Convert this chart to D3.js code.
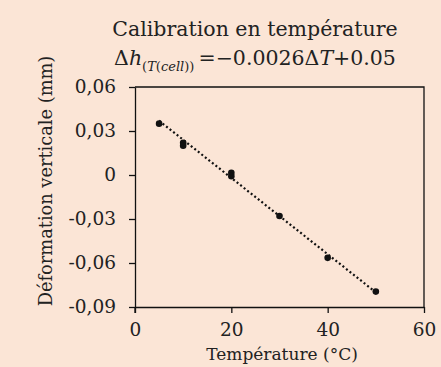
<!DOCTYPE html>
<html>
<head>
<meta charset="utf-8">
<script src="https://cdn.jsdelivr.net/npm/d3@7"></script>
<style>
  html, body { margin: 0; padding: 0; background: #fbe5d6; }
  svg { display: block; }
  text { font-family: "DejaVu Serif", "Liberation Serif", serif; fill: #222; }
</style>
</head>
<body>
<svg id="chart" width="441" height="367"></svg>
<script>
// Measured temperatures (°C) and vertical deformation (mm)
const temperatures = [5, 10, 10, 20, 20, 30, 40, 50];
const deformations = [0.035, 0.022, 0.020, 0.0015, -0.0008, -0.028, -0.0565, -0.0795];

// Linear calibration fit shown in the title
const fitSlope = -0.0026;
const fitIntercept = 0.05;
const fitRange = [5, 50];

// Axis ticks
const xTicks = [0, 20, 40, 60];
const yTicks = [0.06, 0.03, 0, -0.03, -0.06, -0.09];
const yTickLabels = ["0,06", "0,03", "0", "-0,03", "-0,06", "-0,09"];

const titleText = "Calibration en température";
const xLabel = "Température (°C)";
const yLabel = "Déformation verticale (mm)";

const svg = d3.select("#chart");
const W = 441, H = 367;
const plot = { left: 135, right: 424, top: 87, bottom: 307 };

svg.append("rect").attr("width", W).attr("height", H).attr("fill", "#fbe5d6");

const x = d3.scaleLinear().domain([0, 60]).range([plot.left, plot.right]);
const y = d3.scaleLinear().domain([-0.09, 0.06]).range([plot.bottom, plot.top]);

// Frame: top and right edges
svg.append("path")
  .attr("d", `M${plot.left},${plot.top}H${plot.right}V${plot.bottom}`)
  .attr("fill", "none").attr("stroke", "#111").attr("stroke-width", 1.3);

// Y axis
const yAxis = d3.axisLeft(y)
  .tickValues(yTicks)
  .tickFormat((d, i) => yTickLabels[i])
  .tickSize(6).tickSizeOuter(0).tickPadding(13);
const gy = svg.append("g").attr("transform", `translate(${plot.left},0)`).call(yAxis);

// X axis
const xAxis = d3.axisBottom(x)
  .tickValues(xTicks)
  .tickSize(6).tickSizeOuter(0).tickPadding(10);
const gx = svg.append("g").attr("transform", `translate(0,${plot.bottom})`).call(xAxis);

[gx, gy].forEach(g => {
  g.select(".domain").attr("stroke", "#111").attr("stroke-width", 1.3);
  g.selectAll(".tick line").attr("stroke", "#111").attr("stroke-width", 1.3);
  g.selectAll(".tick text")
    .attr("font-family", "DejaVu Serif, serif")
    .attr("font-size", 18.5).attr("fill", "#222");
});
// Extend the y axis line down through the x axis, as a tick at x = 0
gy.append("line").attr("x1", 0).attr("x2", 0)
  .attr("y1", plot.bottom).attr("y2", plot.bottom + 6)
  .attr("stroke", "#111").attr("stroke-width", 1.3);

// Dotted linear trend line
const fitLine = d3.line().x(d => x(d)).y(d => y(fitSlope * d + fitIntercept));
svg.append("path")
  .datum(fitRange)
  .attr("d", fitLine)
  .attr("fill", "none")
  .attr("stroke", "#111")
  .attr("stroke-width", 2.2)
  .attr("stroke-dasharray", "2,2.5");

// Data points
svg.append("g").selectAll("circle")
  .data(temperatures.map((t, i) => [t, deformations[i]]))
  .join("circle")
  .attr("cx", d => x(d[0]))
  .attr("cy", d => y(d[1]))
  .attr("r", 3.3)
  .attr("fill", "#111");

// Title
const cx = 255;
svg.append("text").attr("x", cx).attr("y", 36)
  .attr("text-anchor", "middle").attr("font-size", 20.5)
  .text(titleText);

// Equation line
const eq = svg.append("text").attr("x", cx).attr("y", 65)
  .attr("text-anchor", "middle").attr("font-size", 20.5);
eq.append("tspan").text("Δ");
eq.append("tspan").attr("font-style", "italic").text("h");
eq.append("tspan").attr("font-size", 13).attr("dy", 6).text("(");
eq.append("tspan").attr("font-size", 13).attr("font-style", "italic").text("T");
eq.append("tspan").attr("font-size", 13).text("(");
eq.append("tspan").attr("font-size", 13).attr("font-style", "italic").text("cell");
eq.append("tspan").attr("font-size", 13).text(")) ");
eq.append("tspan").attr("dy", -6).text("=−0.0026Δ");
eq.append("tspan").attr("font-style", "italic").text("T");
eq.append("tspan").text("+0.05");

// Axis titles
svg.append("text")
  .attr("transform", `translate(52,181) rotate(-90)`)
  .attr("text-anchor", "middle").attr("font-size", 17.8)
  .text(yLabel);

svg.append("text").attr("x", 282).attr("y", 360)
  .attr("text-anchor", "middle").attr("font-size", 17)
  .text(xLabel);
</script>
</body>
</html>
